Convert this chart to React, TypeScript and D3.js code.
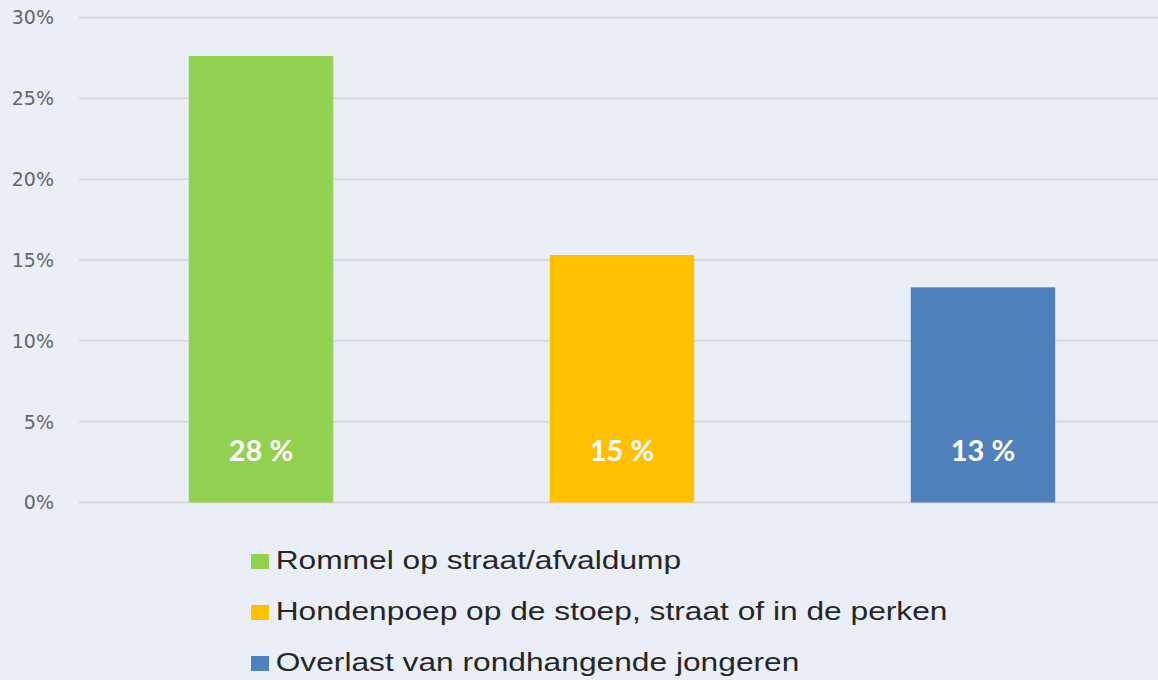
import React from "react";
import * as d3 from "d3";

const categories = [
  "Rommel op straat/afvaldump",
  "Hondenpoep op de stoep, straat of in de perken",
  "Overlast van rondhangende jongeren",
];
const values = [27.62, 15.31, 13.31];
const labels = ["28 %", "15 %", "13 %"];
const colors = ["#92D050", "#FFC000", "#4F81BD"];
const yTicks = [0, 5, 10, 15, 20, 25, 30];

const W = 1158;
const H = 680;

export default function App() {
  const x = d3
    .scaleBand<string>()
    .domain(categories)
    .range([80.5, 1163.5])
    .paddingInner(0.6)
    .paddingOuter(0.3);
  const y = d3.scaleLinear().domain([0, 30]).range([502.5, 17.5]);

  const legendScale = 1.22;
  const legendX = 251;
  const legendBaselines = [569, 620, 671];

  return (
    <svg
      width={W}
      height={H}
      style={{ position: "absolute", left: 0, top: 0 }}
      xmlns="http://www.w3.org/2000/svg"
    >
      <rect x={0} y={0} width={W} height={H} fill="#EAEEF6" />
      {yTicks.map((t) => (
        <g key={t}>
          <line
            x1={79}
            x2={W}
            y1={y(t)}
            y2={y(t)}
            stroke="#D9D9D9"
            strokeWidth={2}
          />
          <text
            x={54}
            y={y(t)}
            dy="0.36em"
            textAnchor="end"
            fontFamily="DejaVu Sans"
            fontSize={19}
            fill="#666666"
          >
            {t + "%"}
          </text>
        </g>
      ))}
      {categories.map((c, i) => (
        <g key={c}>
          <rect
            x={x(c)}
            y={y(values[i])}
            width={x.bandwidth()}
            height={y(0) - y(values[i])}
            fill={colors[i]}
          />
          <text
            x={(x(c) as number) + x.bandwidth() / 2}
            y={y(0) - 42}
            textAnchor="middle"
            fontFamily="Lato"
            fontWeight="bold"
            fontSize={29}
            fill="#FFFFFF"
          >
            {labels[i]}
          </text>
        </g>
      ))}
      {categories.map((c, i) => (
        <g
          key={"lg" + c}
          transform={`translate(${legendX},${legendBaselines[i]}) scale(${legendScale},1)`}
        >
          <rect x={0} y={-15} width={14.8} height={15} fill={colors[i]} />
          <text
            x={20.2}
            y={0}
            fontFamily="Liberation Sans"
            fontSize={26}
            fill="#262626"
          >
            {c}
          </text>
        </g>
      ))}
    </svg>
  );
}
